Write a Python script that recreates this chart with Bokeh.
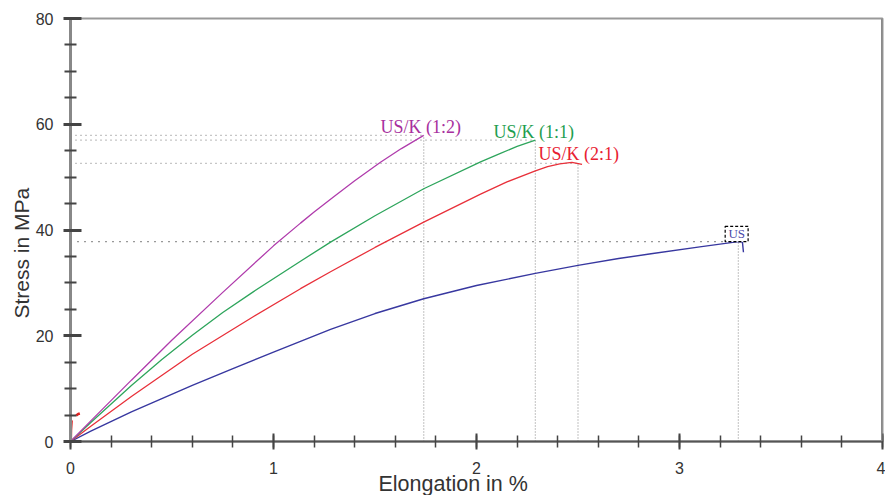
from bokeh.plotting import figure
from bokeh.models import FixedTicker, Label, Span, Title
from bokeh.embed import file_html
from bokeh.resources import INLINE

# ---- data ----
x_12 = [0, 0.1, 0.3, 0.5, 0.75, 1.0, 1.133, 1.2, 1.3, 1.4, 1.527, 1.63, 1.74]
y_12 = [0, 3.9, 11.6, 19.2, 28.2, 37.0, 41.3, 43.4, 46.4, 49.3, 52.8, 55.4, 57.9]

x_11 = [0, 0.1, 0.3, 0.45, 0.6, 0.75, 0.9, 1.133, 1.281, 1.5, 1.74, 2.02, 2.118, 2.2, 2.29]
y_11 = [0, 3.6, 10.6, 15.5, 20.1, 24.4, 28.3, 34.1, 37.7, 42.7, 47.8, 52.9, 54.5, 55.8, 57.0]

x_21 = [0, 0.1, 0.3, 0.6, 0.9, 1.133, 1.281, 1.5, 1.74, 2.02, 2.15, 2.29, 2.35, 2.41, 2.47, 2.52]
y_21 = [0, 2.9, 8.5, 16.5, 23.6, 28.9, 32.1, 36.7, 41.5, 46.8, 49.1, 51.2, 52.0, 52.5, 52.8, 52.4]

x_us = [0, 0.1, 0.3, 0.45, 0.6, 0.8, 1.0, 1.281, 1.5, 1.74, 2.0, 2.29, 2.5, 2.7, 2.86, 3.1,
        3.29, 3.31, 3.315]
y_us = [0, 1.95, 5.6, 8.1, 10.6, 13.8, 16.9, 21.2, 24.2, 27.0, 29.5, 31.8, 33.3, 34.6, 35.5,
        36.8, 37.8, 37.7, 35.8]

# small red trace near the origin
x_red_a = [0.004, 0.005, 0.008]
y_red_a = [0.3, 2.2, 4.0]
x_red_b = [0.028, 0.038, 0.046]
y_red_b = [4.9, 5.2, 5.3]

# end points (breaking points) with their dotted guide lines
end_x = [1.74, 2.29, 2.50, 3.29]
end_y = [57.9, 57.0, 52.6, 37.8]

series_names = ["US/K (1:2)", "US/K (1:1)", "US/K (2:1)", "US"]
label_x = [1.527, 2.084, 2.305]
label_y = [59.4, 58.6, 54.3]

x_ticks = [0, 1, 2, 3, 4]
y_ticks = [0, 20, 40, 60, 80]

C_MAG = "#b03cac"
C_GRN = "#2ea55c"
C_RED = "#e8303a"
C_BLU = "#3838a0"

p = figure(frame_width=812, frame_height=423, min_border_left=70, min_border_right=3,
           min_border_top=18, min_border_bottom=54,
           x_range=(0, 4), y_range=(0, 80), output_backend="svg", toolbar_location=None)
p.xgrid.visible = False
p.ygrid.visible = False
p.background_fill_color = "white"
p.border_fill_color = "white"
p.outline_line_color = "#999999"
p.outline_line_width = 2

# dotted guides
p.segment(x0=[0] * 3, y0=end_y[:3], x1=end_x[:3], y1=end_y[:3], line_color="#8c8c8c",
          line_width=1.3, line_dash="1 4")
p.segment(x0=[0], y0=end_y[3:], x1=end_x[3:], y1=end_y[3:], line_color="#333333",
          line_width=1.3, line_dash="1 6")
p.segment(x0=end_x, y0=[0] * 4, x1=end_x, y1=end_y, line_color="#a0a0a0",
          line_width=1.3, line_dash="1 2")

# curves
p.line(x_us, y_us, line_color=C_BLU, line_width=1.4)
p.line(x_21, y_21, line_color=C_RED, line_width=1.3)
p.line(x_11, y_11, line_color=C_GRN, line_width=1.3)
p.line(x_12, y_12, line_color=C_MAG, line_width=1.3)
p.line(x_red_a, y_red_a, line_color="#e02020", line_width=1.5)
p.line(x_red_b, y_red_b, line_color="#e02020", line_width=2.5)

# labels
label_cols = ["#a8309e", "#1f9e50", "#e82030"]
for nm, lx, ly, c in zip(series_names[:3], label_x, label_y, label_cols):
    p.add_layout(Label(x=lx, y=ly, text=nm, text_font="Liberation Serif",
                       text_font_size="18px", text_color=c, text_baseline="alphabetic"))

# US box label
p.quad(left=[end_x[3] - 0.065], right=[end_x[3] + 0.048], bottom=[end_y[3]],
       top=[end_y[3] + 2.9], fill_color="white", line_color="black", line_width=1.2,
       line_dash="3 2")
p.add_layout(Label(x=end_x[3] - 0.008, y=end_y[3] + 1.45, text=series_names[3],
                   text_font="Liberation Sans Narrow", text_font_size="13px",
                   text_color="#4a4aaa", text_align="center", text_baseline="middle"))

p.add_layout(Span(location=4, dimension="height", line_color="#8a8a8a", line_width=3))

# axes styling
for ax in (p.xaxis[0], p.yaxis[0]):
    ax.major_label_text_font = "Liberation Sans"
    ax.major_label_text_font_size = "16px"
    ax.major_label_text_color = "#333333"
    ax.major_tick_line_color = "#444444"
    ax.minor_tick_line_color = "#444444"

p.xaxis.ticker = FixedTicker(ticks=x_ticks, minor_ticks=[i * 0.2 for i in range(21)])
p.yaxis.ticker = FixedTicker(ticks=y_ticks, minor_ticks=[i * 5 for i in range(17)])

p.yaxis.axis_line_color = "#888888"
p.yaxis.axis_line_width = 3
p.yaxis.major_tick_in = 11
p.yaxis.major_tick_out = 7
p.yaxis.minor_tick_in = 6
p.yaxis.minor_tick_out = 6
p.yaxis.major_tick_line_width = 3
p.yaxis.minor_tick_line_width = 2
p.yaxis.major_label_standoff = 10

p.xaxis.axis_line_color = "#555555"
p.xaxis.axis_line_width = 2
p.xaxis.major_tick_in = 8
p.xaxis.major_tick_out = 8
p.xaxis.minor_tick_in = 6
p.xaxis.minor_tick_out = 6
p.xaxis.major_tick_line_width = 2
p.xaxis.minor_tick_line_width = 1.5
p.xaxis.major_label_standoff = 12

# axis titles as side titles
p.add_layout(Title(text="Elongation in %", align="left", offset=308, standoff=-13,
                   text_font="Liberation Sans", text_font_size="21.5px",
                   text_font_style="normal", text_color="#333333"), "below")
p.add_layout(Title(text="Stress in MPa", align="left", offset=123, standoff=0,
                   text_font="Liberation Sans", text_font_size="21px",
                   text_font_style="normal", text_color="#333333"), "left")

open("out.html", "w").write(file_html(p, INLINE))
